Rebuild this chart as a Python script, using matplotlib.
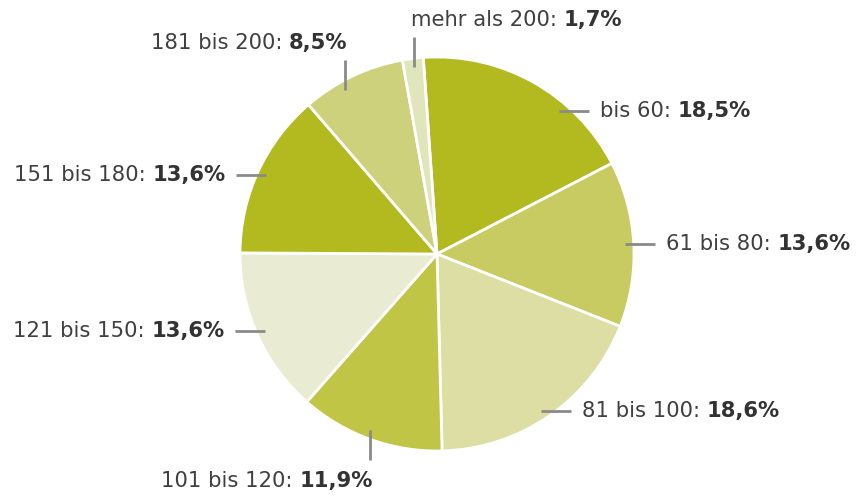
import numpy as np
import matplotlib
matplotlib.use("Agg")
import matplotlib.pyplot as plt

categories = ["bis 60", "61 bis 80", "81 bis 100", "101 bis 120",
              "121 bis 150", "151 bis 180", "181 bis 200", "mehr als 200"]
values = [18.5, 13.6, 18.6, 11.9, 13.6, 13.6, 8.5, 1.7]
value_labels = ["18,5%", "13,6%", "18,6%", "11,9%", "13,6%", "13,6%", "8,5%", "1,7%"]

colors = ["#b2ba1f", "#c8cb62", "#dcdea3", "#c0c546",
          "#e9ecd3", "#b2ba1f", "#ced17c", "#e1e5bc"]

# layout: leader direction and small angle adjustment (degrees)
directions = ["h", "h", "h", "v", "h", "h", "v", "v"]
angle_adjust = [-11, 0, -1.5, -1, 0, 0, 4, 0]

W, H = 859, 497
fig = plt.figure(figsize=(W / 100, H / 100), dpi=100)
ax = fig.add_axes([0, 0, 1, 1])

cx, cy, R = 437, H - 254, 197
start = 94
wedges, _ = ax.pie(values, colors=colors, startangle=start, counterclock=False,
                   center=(cx, cy), radius=R, frame=True,
                   wedgeprops=dict(edgecolor="white", linewidth=2))
ax.set_xlim(0, W)
ax.set_ylim(0, H)
ax.set_aspect("equal")
ax.axis("off")

fam = ["DejaVu Sans"]
fs = 15.2
line_col = "#8a8a8a"
txt_col = "#404040"
L = 30

cum = 0
for cat, v, vl, d, adj in zip(categories, values, value_labels, directions, angle_adjust):
    mid = start - (cum + v / 2) * 3.6 + adj
    cum += v
    a = np.deg2rad(mid)
    x0 = cx + 0.955 * R * np.cos(a)
    y0 = cy + 0.955 * R * np.sin(a)
    if d == "h":
        sgn = 1 if np.cos(a) > 0 else -1
        x1, y1 = x0 + sgn * L, y0
        ax.plot([x0, x1], [y0, y1], color=line_col, lw=2, solid_capstyle="butt")
        tx, ty = x1 + sgn * 11, y1
        ha = "left" if sgn > 0 else "right"
    else:
        sgn = 1 if np.sin(a) > 0 else -1
        x1, y1 = x0, y0 + sgn * L
        ax.plot([x0, x1], [y0, y1], color=line_col, lw=2, solid_capstyle="butt")
        ty = y1 + (17 if sgn > 0 else -21)
        ha = "left" if (sgn > 0 and v < 5) else "right"
        tx = x1 - 3 if ha == "left" else x1 + 3
    t1 = f"{cat}: "
    if ha == "left":
        tt = ax.text(tx, ty, t1, ha="left", va="center", fontsize=fs, color=txt_col, family=fam)
        fig.canvas.draw()
        bb = tt.get_window_extent()
        xe = ax.transData.inverted().transform((bb.x1, bb.y0))[0]
        ax.text(xe, ty, vl, ha="left", va="center", fontsize=fs, color="#333333",
                family=fam, fontweight="bold")
    else:
        tb = ax.text(tx, ty, vl, ha="right", va="center", fontsize=fs, color="#333333",
                     family=fam, fontweight="bold")
        fig.canvas.draw()
        bb = tb.get_window_extent()
        xs = ax.transData.inverted().transform((bb.x0, bb.y0))[0]
        ax.text(xs, ty, t1, ha="right", va="center", fontsize=fs, color=txt_col, family=fam)

fig.savefig("out.png", dpi=100, facecolor="white")
